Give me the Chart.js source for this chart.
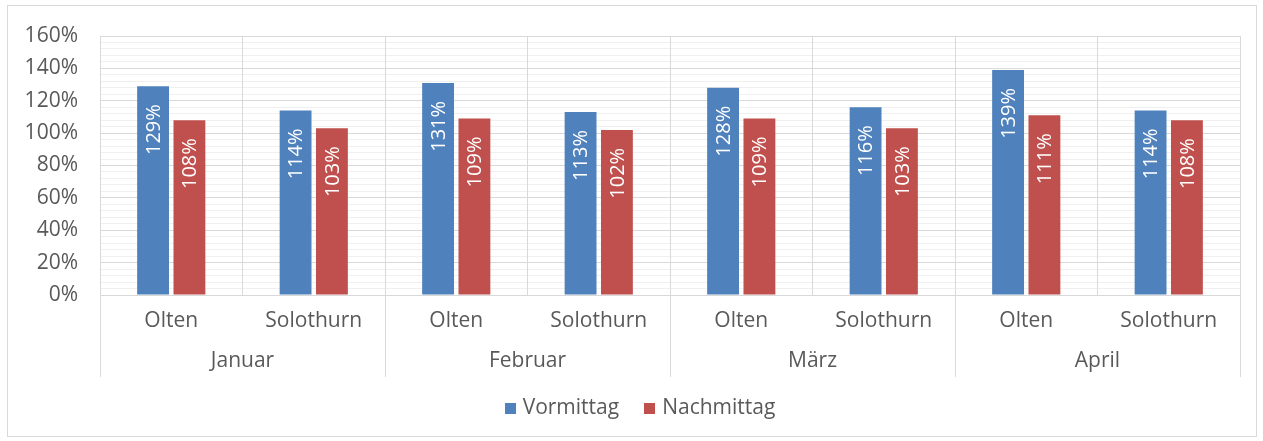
<!DOCTYPE html>
<html>
<head>
<meta charset="utf-8">
<script src="https://cdn.jsdelivr.net/npm/chart.js@4.4.0/dist/chart.umd.min.js"></script>
<style>
  body { margin: 0; background: #fff; }
  #wrap { position: absolute; left: 7px; top: 5px; width: 1248px; height: 430px; border: 1px solid #d9d9d9; }
</style>
</head>
<body>
<div id="wrap"><canvas id="chart"></canvas></div>
<script>
// data
const months = ["Januar", "Februar", "März", "April"];
const sites = ["Olten", "Solothurn"];
const categories = ["Olten", "Solothurn", "Olten", "Solothurn", "Olten", "Solothurn", "Olten", "Solothurn"];
const vormittag = [129, 114, 131, 113, 128, 116, 139, 114];
const nachmittag = [108, 103, 109, 102, 109, 103, 111, 108];
const yMax = 160;
const yMajor = 20;
const yMinor = 4;

const textColor = "#595959";
const gridColor = "#d9d9d9";
const font = { family: "'Open Sans'", size: 21 };

// rotated labels at the inside end of each bar
const barLabels = {
  id: "barLabels",
  afterDatasetsDraw(chart) {
    const ctx = chart.ctx;
    ctx.save();
    ctx.fillStyle = "#fff";
    ctx.font = "20px 'Open Sans'";
    ctx.textAlign = "right";
    ctx.textBaseline = "middle";
    chart.data.datasets.forEach((ds, di) => {
      chart.getDatasetMeta(di).data.forEach((bar, i) => {
        ctx.save();
        ctx.translate(bar.x + 1, bar.y + 18);
        ctx.rotate(-Math.PI / 2);
        ctx.fillText(ds.data[i] + "%", 0, 0);
        ctx.restore();
      });
    });
    ctx.restore();
  }
};

// month dividers running below the axis, plus the legend row
const extras = {
  id: "extras",
  afterDraw(chart) {
    const x = chart.scales.x;
    const m = chart.scales.month;
    const ctx = chart.ctx;
    const per = categories.length / months.length;
    ctx.save();
    ctx.strokeStyle = gridColor;
    ctx.lineWidth = 1;
    for (let k = 0; k <= months.length; k++) {
      let px;
      if (k === 0) px = x.left;
      else if (k === months.length) px = x.right;
      else px = (x.getPixelForValue(k * per - 1) + x.getPixelForValue(k * per)) / 2;
      px = Math.round(px) + 0.5;
      ctx.beginPath();
      ctx.moveTo(px, chart.chartArea.bottom);
      ctx.lineTo(px, m.bottom - 4);
      ctx.stroke();
    }

    // legend
    ctx.font = "21px 'Open Sans'";
    ctx.textBaseline = "middle";
    ctx.textAlign = "left";
    const box = 11, gap = 7, spacing = 25;
    const items = chart.data.datasets.map((ds) => ({
      text: ds.label, color: ds.backgroundColor, w: ctx.measureText(ds.label).width
    }));
    let total = 0;
    items.forEach((it, i) => { total += box + gap + it.w + (i ? spacing : 0); });
    let lx = chart.width / 2 + 8 - total / 2;
    const ly = m.bottom + 27;
    items.forEach((it) => {
      ctx.fillStyle = it.color;
      ctx.fillRect(Math.round(lx), Math.round(ly - box / 2), box, box);
      ctx.fillStyle = textColor;
      ctx.fillText(it.text, lx + box + gap, ly);
      lx += box + gap + it.w + spacing;
    });
    ctx.restore();
  }
};

new Chart(document.getElementById("chart"), {
  type: "bar",
  data: {
    labels: categories,
    datasets: [
      { label: "Vormittag", data: vormittag, backgroundColor: "#4f81bd" },
      { label: "Nachmittag", data: nachmittag, backgroundColor: "#c0504d" }
    ]
  },
  options: {
    responsive: true,
    maintainAspectRatio: false,
    animation: false,
    categoryPercentage: 0.51,
    barPercentage: 0.877,
    layout: { padding: { top: 30, right: 16, bottom: 55, left: 0 } },
    scales: {
      y: {
        min: 0,
        max: yMax,
        afterFit(s) { s.width = 92; s.paddingTop = 0; s.paddingBottom = 0; },
        border: { display: false },
        grid: {
          drawTicks: false,
          color: (c) => (c.tick && c.tick.value % yMajor === 0 ? gridColor : "#f0f0f0")
        },
        ticks: {
          stepSize: yMinor,
          autoSkip: false,
          padding: 22,
          color: textColor,
          font: font,
          callback: (v) => (v % yMajor === 0 ? v + "%" : "")
        }
      },
      x: {
        weight: 0,
        afterFit(s) { s.height = 46; },
        border: { color: gridColor },
        grid: { offset: true, drawTicks: false, color: gridColor },
        ticks: { padding: 13, color: textColor, font: font }
      },
      month: {
        type: "category",
        labels: months,
        position: "bottom",
        weight: 1,
        offset: true,
        afterFit(s) { s.height = 40; },
        border: { display: false },
        grid: { display: false, drawTicks: false },
        ticks: { padding: 7, color: textColor, font: font }
      }
    },
    plugins: {
      legend: { display: false },
      tooltip: { enabled: false }
    }
  },
  plugins: [barLabels, extras]
});
</script>
</body>
</html>
